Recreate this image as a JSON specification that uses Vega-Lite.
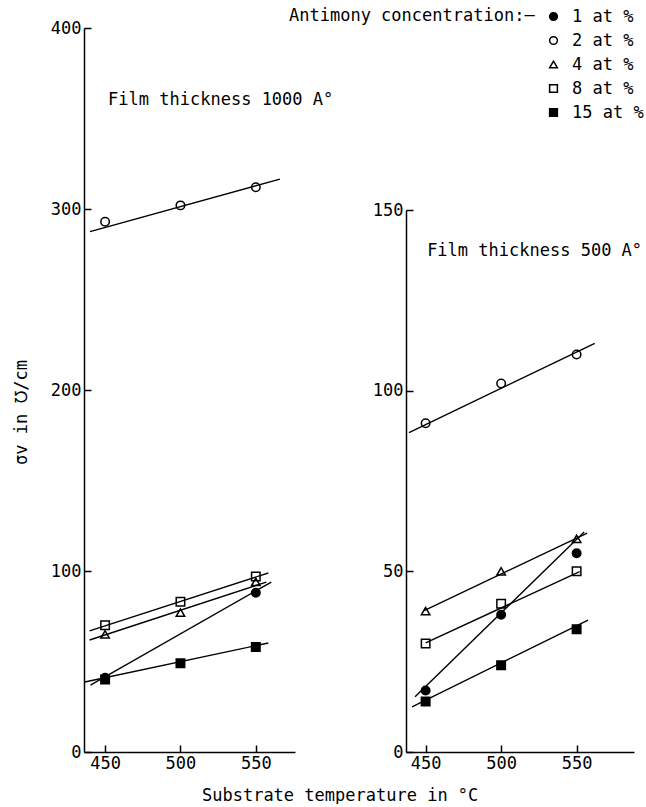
{
  "$schema": "https://vega.github.io/schema/vega-lite/v6.json",
  "background": "white",
  "padding": {"left": 12, "top": 8, "right": 0, "bottom": 0},
  "datasets": {
    "points": [
      {"panel": "1000", "conc": "2 at %", "temp": 450, "sigma": 293},
      {"panel": "1000", "conc": "2 at %", "temp": 500, "sigma": 302},
      {"panel": "1000", "conc": "2 at %", "temp": 550, "sigma": 312},
      {"panel": "1000", "conc": "4 at %", "temp": 450, "sigma": 65},
      {"panel": "1000", "conc": "4 at %", "temp": 500, "sigma": 77},
      {"panel": "1000", "conc": "4 at %", "temp": 550, "sigma": 94},
      {"panel": "1000", "conc": "8 at %", "temp": 450, "sigma": 70},
      {"panel": "1000", "conc": "8 at %", "temp": 500, "sigma": 83},
      {"panel": "1000", "conc": "8 at %", "temp": 550, "sigma": 97},
      {"panel": "1000", "conc": "1 at %", "temp": 450, "sigma": 41},
      {"panel": "1000", "conc": "1 at %", "temp": 550, "sigma": 88},
      {"panel": "1000", "conc": "15 at %", "temp": 450, "sigma": 40},
      {"panel": "1000", "conc": "15 at %", "temp": 500, "sigma": 49},
      {"panel": "1000", "conc": "15 at %", "temp": 550, "sigma": 58},
      {"panel": "500", "conc": "2 at %", "temp": 450, "sigma": 91},
      {"panel": "500", "conc": "2 at %", "temp": 500, "sigma": 102},
      {"panel": "500", "conc": "2 at %", "temp": 550, "sigma": 110},
      {"panel": "500", "conc": "4 at %", "temp": 450, "sigma": 39},
      {"panel": "500", "conc": "4 at %", "temp": 500, "sigma": 50},
      {"panel": "500", "conc": "4 at %", "temp": 550, "sigma": 59},
      {"panel": "500", "conc": "8 at %", "temp": 450, "sigma": 30},
      {"panel": "500", "conc": "8 at %", "temp": 500, "sigma": 41},
      {"panel": "500", "conc": "8 at %", "temp": 550, "sigma": 50},
      {"panel": "500", "conc": "1 at %", "temp": 450, "sigma": 17},
      {"panel": "500", "conc": "1 at %", "temp": 500, "sigma": 38},
      {"panel": "500", "conc": "1 at %", "temp": 550, "sigma": 55},
      {"panel": "500", "conc": "15 at %", "temp": 450, "sigma": 14},
      {"panel": "500", "conc": "15 at %", "temp": 500, "sigma": 24},
      {"panel": "500", "conc": "15 at %", "temp": 550, "sigma": 34}
    ],
    "fits": [
      {"panel": "1000", "conc": "2 at %", "temp": 440, "sigma": 287.5},
      {"panel": "1000", "conc": "2 at %", "temp": 566, "sigma": 316.5},
      {"panel": "1000", "conc": "8 at %", "temp": 439.7, "sigma": 66.9},
      {"panel": "1000", "conc": "8 at %", "temp": 558.3, "sigma": 98.9},
      {"panel": "1000", "conc": "4 at %", "temp": 439.7, "sigma": 61.9},
      {"panel": "1000", "conc": "4 at %", "temp": 557, "sigma": 93.9},
      {"panel": "1000", "conc": "1 at %", "temp": 440.3, "sigma": 37},
      {"panel": "1000", "conc": "1 at %", "temp": 560.3, "sigma": 93.9},
      {"panel": "1000", "conc": "15 at %", "temp": 436.5, "sigma": 38.7},
      {"panel": "1000", "conc": "15 at %", "temp": 558.3, "sigma": 60.2},
      {"panel": "500", "conc": "2 at %", "temp": 439, "sigma": 88.4},
      {"panel": "500", "conc": "2 at %", "temp": 562, "sigma": 113.1},
      {"panel": "500", "conc": "4 at %", "temp": 449, "sigma": 39.1},
      {"panel": "500", "conc": "4 at %", "temp": 557, "sigma": 60.6},
      {"panel": "500", "conc": "8 at %", "temp": 450, "sigma": 30.2},
      {"panel": "500", "conc": "8 at %", "temp": 552, "sigma": 49.9},
      {"panel": "500", "conc": "1 at %", "temp": 443, "sigma": 15.3},
      {"panel": "500", "conc": "1 at %", "temp": 555, "sigma": 60.9},
      {"panel": "500", "conc": "15 at %", "temp": 441, "sigma": 12.5},
      {"panel": "500", "conc": "15 at %", "temp": 557.6, "sigma": 36.5}
    ],
    "notes": [
      {"panel": "1000", "note": "Film thickness 1000 A°"},
      {"panel": "500", "note": "Film thickness 500 A°"}
    ]
  },
  "config": {
    "view": {"stroke": null},
    "font": "DejaVu Sans Mono",
    "axis": {
      "domainColor": "black", "domainWidth": 1.5,
      "tickColor": "black", "tickWidth": 1.5, "tickSize": -7,
      "labelFont": "DejaVu Sans Mono", "labelFontSize": 17, "labelColor": "black", "labelPadding": 10,
      "grid": false,
      "titleFont": "DejaVu Sans Mono", "titleFontSize": 17, "titleFontWeight": "normal", "titleColor": "black"
    },
    "legend": {
      "titleFont": "DejaVu Sans Mono", "titleFontSize": 17, "titleFontWeight": "normal", "titleColor": "black", "titleLimit": 400,
      "labelFont": "DejaVu Sans Mono", "labelFontSize": 17, "labelColor": "black", "labelLimit": 200,
      "symbolStrokeColor": "black", "symbolStrokeWidth": 1.5, "symbolSize": 60,
      "rowPadding": 6, "labelOffset": 10, "padding": 0
    }
  },
  "title": {
    "text": "Substrate temperature in °C", "orient": "bottom", "anchor": "middle",
    "offset": 17, "dx": 12, "font": "DejaVu Sans Mono", "fontSize": 17, "fontWeight": "normal", "color": "black"
  },
  "spacing": 38,
  "hconcat": [
    {
      "width": 211, "height": 724,
      "layer": [
        {
          "data": {"name": "fits"},
          "transform": [{"filter": "datum.panel === '1000'"}],
          "mark": {"type": "line", "color": "black", "strokeWidth": 1.4},
          "encoding": {
            "x": {"field": "temp", "type": "quantitative", "scale": {"domain": [436, 576], "nice": false, "zero": false},
                  "axis": {"values": [450, 500, 550], "title": null}},
            "y": {"field": "sigma", "type": "quantitative", "scale": {"domain": [0, 400], "nice": false},
                  "axis": {"values": [0, 100, 200, 300, 400], "title": "σv in ℧/cm", "titlePadding": 20, "titleY": 384}},
            "detail": {"field": "conc"}
          }
        },
        {
          "data": {"name": "points"},
          "transform": [{"filter": "datum.panel === '1000'"}],
          "mark": {"type": "point", "filled": false, "strokeWidth": 1.5, "size": 72, "opacity": 1},
          "encoding": {
            "x": {"field": "temp", "type": "quantitative"},
            "y": {"field": "sigma", "type": "quantitative"},
            "shape": {"field": "conc", "type": "nominal",
              "scale": {"domain": ["1 at %", "2 at %", "4 at %", "8 at %", "15 at %"], "range": ["circle", "circle", "triangle-up", "square", "square"]},
              "legend": {"orient": "none", "legendX": 205, "legendY": -20, "title": "Antimony concentration:–",
                "titleOrient": "left", "titleAnchor": "start", "titleAlign": "left", "titleBaseline": "top", "titlePadding": 10,
                "encode": {"title": {"angle": {"value": 0}}}}},
            "fill": {"field": "conc", "type": "nominal",
              "scale": {"domain": ["1 at %", "2 at %", "4 at %", "8 at %", "15 at %"], "range": ["black", "transparent", "transparent", "transparent", "black"]},
              "legend": {"orient": "none", "legendX": 205, "legendY": -20, "title": "Antimony concentration:–",
                "titleOrient": "left", "titleAnchor": "start", "titleAlign": "left", "titleBaseline": "top", "titlePadding": 10,
                "encode": {"title": {"angle": {"value": 0}}}}},
            "stroke": {"field": "conc", "type": "nominal",
              "scale": {"domain": ["1 at %", "2 at %", "4 at %", "8 at %", "15 at %"], "range": ["black", "black", "black", "black", "black"]},
              "legend": {"orient": "none", "legendX": 205, "legendY": -20, "title": "Antimony concentration:–",
                "titleOrient": "left", "titleAnchor": "start", "titleAlign": "left", "titleBaseline": "top", "titlePadding": 10,
                "encode": {"title": {"angle": {"value": 0}}}}}
          }
        },
        {
          "data": {"name": "notes"},
          "transform": [{"filter": "datum.panel === '1000'"}],
          "mark": {"type": "text", "align": "left", "baseline": "middle", "font": "DejaVu Sans Mono", "fontSize": 17, "color": "black"},
          "encoding": {
            "x": {"datum": 452},
            "y": {"datum": 360},
            "text": {"field": "note"}
          }
        }
      ]
    },
    {
      "spacing": 10,
      "vconcat": [
        {
          "width": 228, "height": 163,
          "data": {"values": []},
          "mark": {"type": "point", "opacity": 0}
        },
        {
          "width": 228, "height": 542,
          "layer": [
            {
              "data": {"name": "fits"},
              "transform": [{"filter": "datum.panel === '500'"}],
              "mark": {"type": "line", "color": "black", "strokeWidth": 1.4},
              "encoding": {
                "x": {"field": "temp", "type": "quantitative", "scale": {"domain": [437, 588], "nice": false, "zero": false},
                      "axis": {"values": [450, 500, 550], "title": null}},
                "y": {"field": "sigma", "type": "quantitative", "scale": {"domain": [0, 150], "nice": false},
                      "axis": {"values": [0, 50, 100, 150], "title": null}},
                "detail": {"field": "conc"}
              }
            },
            {
              "data": {"name": "points"},
              "transform": [{"filter": "datum.panel === '500'"}],
              "mark": {"type": "point", "filled": false, "strokeWidth": 1.5, "size": 72, "opacity": 1},
              "encoding": {
                "x": {"field": "temp", "type": "quantitative"},
                "y": {"field": "sigma", "type": "quantitative"},
                "shape": {"field": "conc", "type": "nominal"},
                "fill": {"field": "conc", "type": "nominal"},
                "stroke": {"field": "conc", "type": "nominal"}
              }
            },
            {
              "data": {"name": "notes"},
              "transform": [{"filter": "datum.panel === '500'"}],
              "mark": {"type": "text", "align": "left", "baseline": "middle", "font": "DejaVu Sans Mono", "fontSize": 17, "color": "black"},
              "encoding": {
                "x": {"datum": 451},
                "y": {"datum": 138.7},
                "text": {"field": "note"}
              }
            }
          ]
        }
      ]
    }
  ]
}
